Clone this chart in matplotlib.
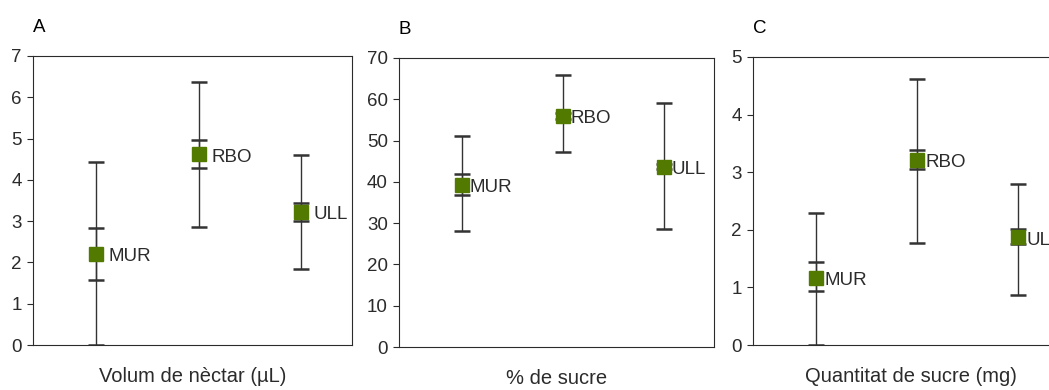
import matplotlib.pyplot as plt

plt.rcParams['font.family'] = ['Liberation Sans', 'DejaVu Sans']

sites = ["MUR", "RBO", "ULL"]
panel_letters = ["A", "B", "C"]
xlabels = ["Volum de nèctar (µL)", "% de sucre", "Quantitat de sucre (mg)"]

# panel A: nectar volume
vol_mean = [2.2, 4.62, 3.22]
vol_outer_lo = [0.0, 2.85, 1.84]
vol_outer_hi = [4.43, 6.36, 4.59]
vol_inner_lo = [1.57, 4.28, 3.0]
vol_inner_hi = [2.83, 4.96, 3.43]

# panel B: sugar %
suc_mean = [39.2, 56.0, 43.7]
suc_outer_lo = [28.2, 47.2, 28.7]
suc_outer_hi = [51.0, 66.0, 59.0]
suc_inner_lo = [36.7, 55.3, 43.0]
suc_inner_hi = [41.8, 56.7, 44.4]

# panel C: sugar amount
qty_mean = [1.17, 3.21, 1.87]
qty_outer_lo = [0.0, 1.77, 0.87]
qty_outer_hi = [2.29, 4.61, 2.8]
qty_inner_lo = [0.93, 3.06, 1.76]
qty_inner_hi = [1.44, 3.39, 2.01]

ylims = [7, 70, 5]
yticks = [list(range(0, 8)), list(range(0, 71, 10)), list(range(0, 6))]

panels = [
    (vol_mean, vol_outer_lo, vol_outer_hi, vol_inner_lo, vol_inner_hi),
    (suc_mean, suc_outer_lo, suc_outer_hi, suc_inner_lo, suc_inner_hi),
    (qty_mean, qty_outer_lo, qty_outer_hi, qty_inner_lo, qty_inner_hi),
]

W, H = 1049, 390
fig = plt.figure(figsize=(W / 100, H / 100), dpi=100)

# axes boxes in pixels: left, top, right, bottom
boxes = [(33, 56, 352, 345), (399, 58, 714, 347), (753, 57, 1069, 345)]
label_off = [9, 6, 6]

green = "#527a00"
grey = "#2b2b2b"

for i, (mean, olo, ohi, ilo, ihi) in enumerate(panels):
    l, t, r, b = boxes[i]
    ax = fig.add_axes([l / W, 1 - b / H, (r - l) / W, (b - t) / H])
    x = [1, 2, 3]
    outer_err = [[m - lo for m, lo in zip(mean, olo)], [hi - m for m, hi in zip(mean, ohi)]]
    inner_err = [[m - lo for m, lo in zip(mean, ilo)], [hi - m for m, hi in zip(mean, ihi)]]
    for err in (outer_err, inner_err):
        _, caps, _ = ax.errorbar(x, mean, yerr=err, fmt="none", ecolor="#333333",
                                 elinewidth=1.0, capsize=5.5, capthick=1.8, zorder=2)
        for c in caps:
            c.set_color("black")
    ax.plot(x, mean, linestyle="none", marker="s", markersize=10.5, color=green, zorder=3)
    for xi, m, s in zip(x, mean, sites):
        ax.annotate(s, (xi, m), xytext=(label_off[i], -2), textcoords="offset points",
                    ha="left", va="center", fontsize=13.5, color=grey)
    ax.set_xlim(0.38, 3.5)
    ax.set_ylim(0, ylims[i])
    ax.set_yticks(yticks[i])
    ax.set_xticks([])
    ax.tick_params(axis="y", direction="out", length=4.5, width=0.8, colors=grey,
                   labelsize=13.5, pad=3.5)
    for sp in ax.spines.values():
        sp.set_color(grey)
        sp.set_linewidth(0.8)
    ax.set_xlabel(xlabels[i], fontsize=14.5, color=grey, labelpad=16)
    ax.text(0.0, 1.0 + 24 / (b - t), panel_letters[i], transform=ax.transAxes,
            fontsize=13.5, color="black", ha="left", va="baseline")

fig.savefig("out.png", dpi=100)
